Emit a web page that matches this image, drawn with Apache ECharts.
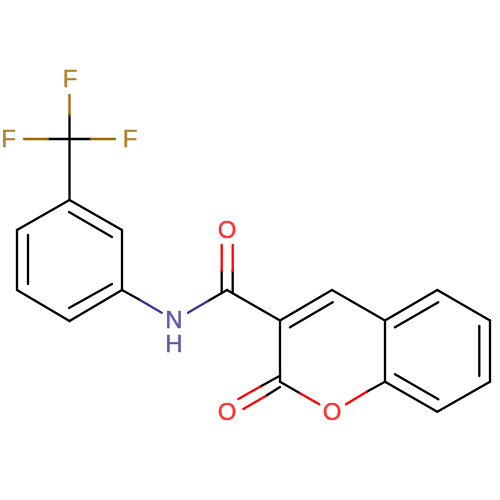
<!DOCTYPE html>
<html><head><meta charset="utf-8">
<style>html,body{margin:0;padding:0;background:#fff}#c{width:500px;height:500px}</style>
<script src="https://cdn.jsdelivr.net/npm/echarts@6/dist/echarts.min.js"></script>
</head><body><div id="c"></div>
<script>
const atomText = ['F','F','F','N','H','O','O','O'];
const atomX = [70,8.5,130,174,174,227,227,332];
const atomY = [80.5,140.5,140.5,321,345,231,413,413];
const atomColor = ['#9c6600','#9c6600','#9c6600','#333399','#333399','#ff0000','#ff0000','#ff0000'];

const blackBonds = [
 [69.5,115,69.5,139],[48,139,69.5,139],[69.5,139,91,139],[69.5,139,69.5,200],
 [69.5,200,122,230],[122,230,122,290],[122,290,69.5,321],[69.5,321,17,290],[17,290,17,230],[17,230,69.5,200],
 [69,212,112,237],[112,284,69,308],[28,235,28,284],
 [122,290,140,300],[208,301,227,290],[227,290,280,320.5],
 [221.7,271,221.7,293],[232.7,271,232.7,293],
 [280,320.5,280,381.7],[280,375.7,260,386.7],[280,387,265.7,396],
 [280,320.5,332,290],[290,327.3,332.7,302.3],[332,290,385,320.5],
 [385,320.5,437.3,290],[437.3,290,490,320.5],[490,320.5,490,381.7],[490,381.7,437.3,411.7],[437.3,411.7,385,381.7],[385,381.7,385,320.5],
 [395,327.3,438.3,302.3],[479.3,326,479.3,376],[395,374.3,438.3,399.3],
 [280,381.7,300,393.3],[366.7,391.7,385,381.7]
];
const goldBonds = [[69.5,95,69.5,115],[24,139,48,139],[91,139,115,139]];
const blueBonds = [[140,300,161.7,312.7],[188,312.7,208,301]];
const redBonds = [
 [221.7,245,221.7,271],[232.7,245,232.7,271],
 [238.3,399,260,386.7],[243.3,409,265.7,396],
 [300,393.3,319.3,404.3],[346,404.3,366.7,391.7]
];

const bondSeries = (segs, color) => segs.map(s => ({
  type:'line', symbol:'none', silent:true, animation:false,
  lineStyle:{color, width:2.3, cap:'round', join:'round'},
  data:[[s[0],s[1]],[s[2],s[3]]]
}));

const chart = echarts.init(document.getElementById('c'), null, {renderer:'canvas'});
chart.setOption({
  backgroundColor:'#fff', animation:false,
  grid:{left:0,right:0,top:0,bottom:0},
  xAxis:{type:'value',min:0,max:500,show:false},
  yAxis:{type:'value',min:0,max:500,inverse:true,show:false},
  series:[
    ...bondSeries(blackBonds,'#000000'),
    ...bondSeries(goldBonds,'#9c6600'),
    ...bondSeries(blueBonds,'#333399'),
    ...bondSeries(redBonds,'#ff0000'),
    {type:'scatter',symbolSize:1,itemStyle:{color:'rgba(255,255,255,0)'},silent:true,animation:false,
     data:atomText.map((t,i)=>({
       value:[atomX[i],atomY[i]],
       label:{show:true,position:'inside',formatter:t,color:atomColor[i],
              textBorderColor:atomColor[i],textBorderWidth:0.4,
              fontFamily:'Liberation Sans',fontSize:24,align:'center',verticalAlign:'middle'}
     }))}
  ]
});
</script></body></html>
